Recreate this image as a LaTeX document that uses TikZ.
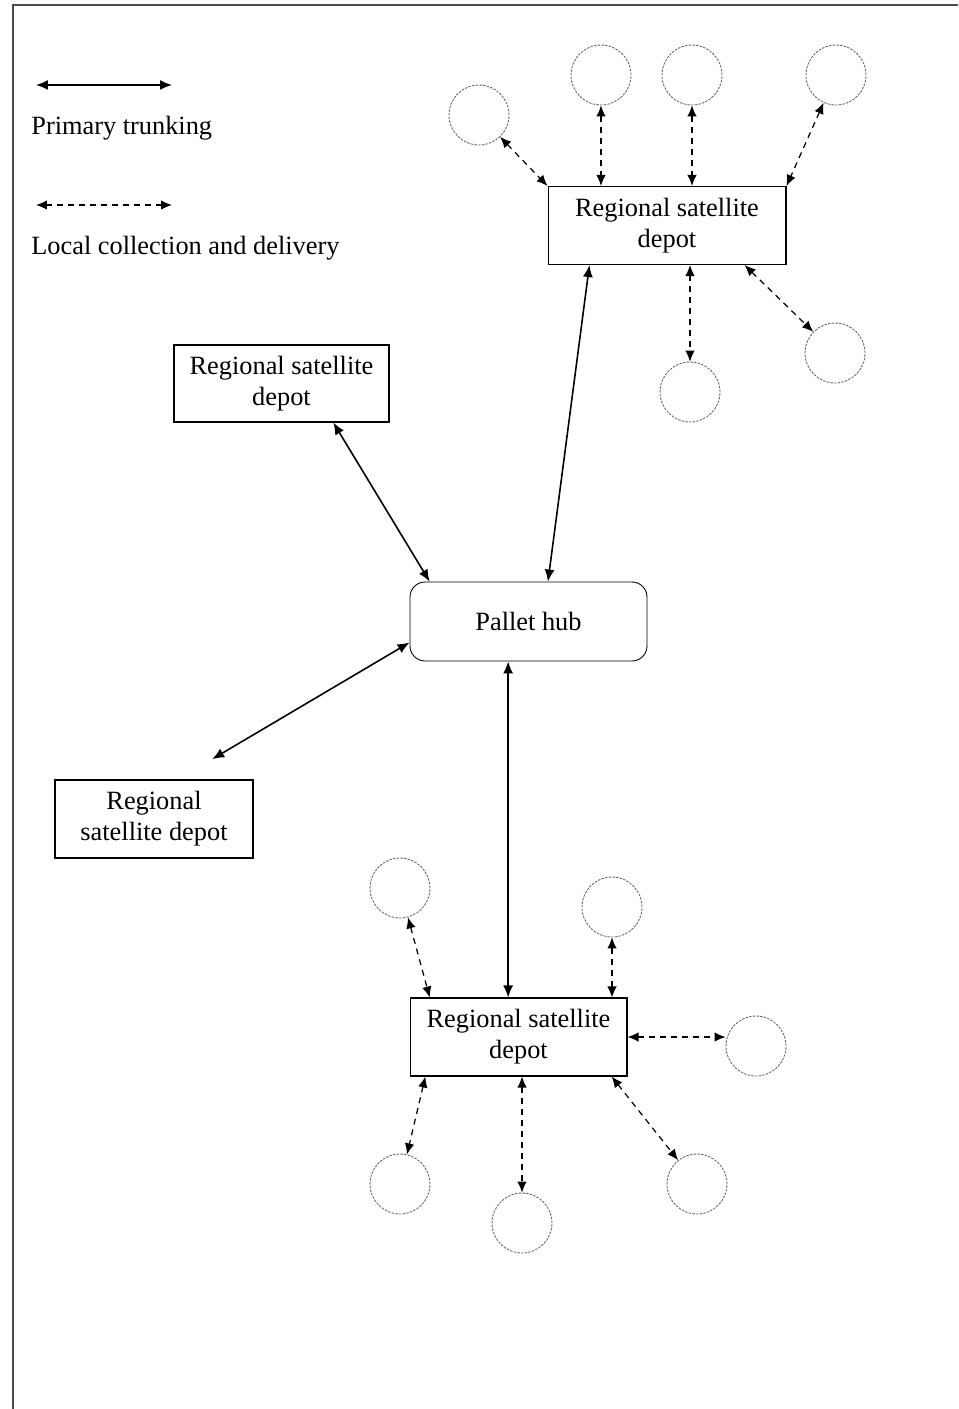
\documentclass[tikz,border=0pt]{standalone}
\usepackage{fontspec}
\setmainfont{Liberation Serif}
\usetikzlibrary{arrows.meta,positioning}

\tikzset{
  depot/.style={draw, line width=0.6pt, minimum width=4.3cm, minimum height=1.56cm,
    align=center, inner sep=1pt},
  hub/.style={draw, line width=0.5pt, rounded corners=0.3cm, minimum width=4.74cm,
    minimum height=1.58cm},
  stop/.style={circle, draw=black!60, line width=0.5pt, dash pattern=on 1.4pt off 0.7pt,
    minimum size=1.2cm, inner sep=0pt},
  trunk/.style={{Latex[length=2.4mm,width=2mm]}-{Latex[length=2.4mm,width=2mm]}, line width=0.9pt},
  local/.style={{Latex[length=2.2mm,width=1.9mm]}-{Latex[length=2.2mm,width=1.9mm]}, line width=0.7pt,
    dash pattern=on 1.2mm off 1mm}
}

\begin{document}
\begin{tikzpicture}[x=0.02cm, y=0.02cm, font=\fontsize{15}{17.5}\selectfont]

  \useasboundingbox (0,0) rectangle (958,-1409);
  \draw[black!70, line width=0.9pt] (13,-1409) -- (13,-5) -- (958,-5);

  % legend
  \coordinate (t_a) at (36,-85);
  \coordinate (t_b) at (172,-85);
  \draw[trunk] (t_a) -- (t_b);
  \node[anchor=west, inner sep=0pt] (t_txt) at (31,-128) {Primary trunking};

  \coordinate (l_a) at (36,-205);
  \coordinate (l_b) at (172,-205);
  \draw[local] (l_a) -- (l_b);
  \node[anchor=west, inner sep=0pt] (l_txt) at (31,-248) {Local collection and delivery};

  % hub and depots
  \node[hub] (hub) at (528.5,-621.5) {Pallet hub};
  \node[depot, minimum width=4.76cm] (d_top) at (667,-225.5) {Regional satellite\\depot};
  \node[depot, minimum width=4.3cm, minimum height=1.54cm] (d_left) at (281.5,-383.5) {Regional satellite\\depot};
  \node[depot, minimum width=3.96cm] (d_low) at (154,-819) {Regional\\satellite depot};
  \node[depot, minimum width=4.34cm] (d_bot) at (518.5,-1037) {Regional satellite\\depot};

  \draw[trunk] (d_left.-37) -- (hub.158);
  \draw[trunk] (d_top.-153) -- (hub.64);
  \draw[trunk, shorten >=0.8cm] (hub.190) -- (d_low.59);
  \draw[trunk] (hub.-117) -- (hub.-117 |- d_bot.north);

  % stops round the top depot
  \node[stop] (c_a) at (479,-115) {};
  \node[stop] (c_b) at (601,-75) {};
  \node[stop] (c_c) at (692,-75) {};
  \node[stop] (c_d) at (836,-75) {};
  \node[stop] (c_e) at (835,-353) {};
  \node[stop] (c_f) at (690,-392) {};

  \draw[local] (c_a) -- (d_top.north west);
  \draw[local] (c_b) -- (c_b |- d_top.north);
  \draw[local] (c_c) -- (c_c |- d_top.north);
  \draw[local] (c_d) -- (d_top.north east);
  \draw[local] (d_top.south -| c_f) -- (c_f);
  \draw[local] (d_top.-27) -- (c_e);

  % stops round the bottom depot
  \node[stop] (b_a) at (400,-888) {};
  \node[stop] (b_b) at (612,-907) {};
  \node[stop] (b_c) at (756,-1046) {};
  \node[stop] (b_d) at (400,-1184) {};
  \node[stop] (b_e) at (522,-1223) {};
  \node[stop] (b_f) at (697,-1184) {};

  \draw[local] (b_a) -- (d_bot.156);
  \draw[local] (b_b) -- (b_b |- d_bot.north);
  \draw[local] (d_bot.east) -- (d_bot.east -| b_c.west);
  \draw[local] (d_bot.-157) -- (b_d);
  \draw[local] (d_bot.south -| b_e) -- (b_e);
  \draw[local] (d_bot.-23) -- (b_f);

\end{tikzpicture}
\end{document}
